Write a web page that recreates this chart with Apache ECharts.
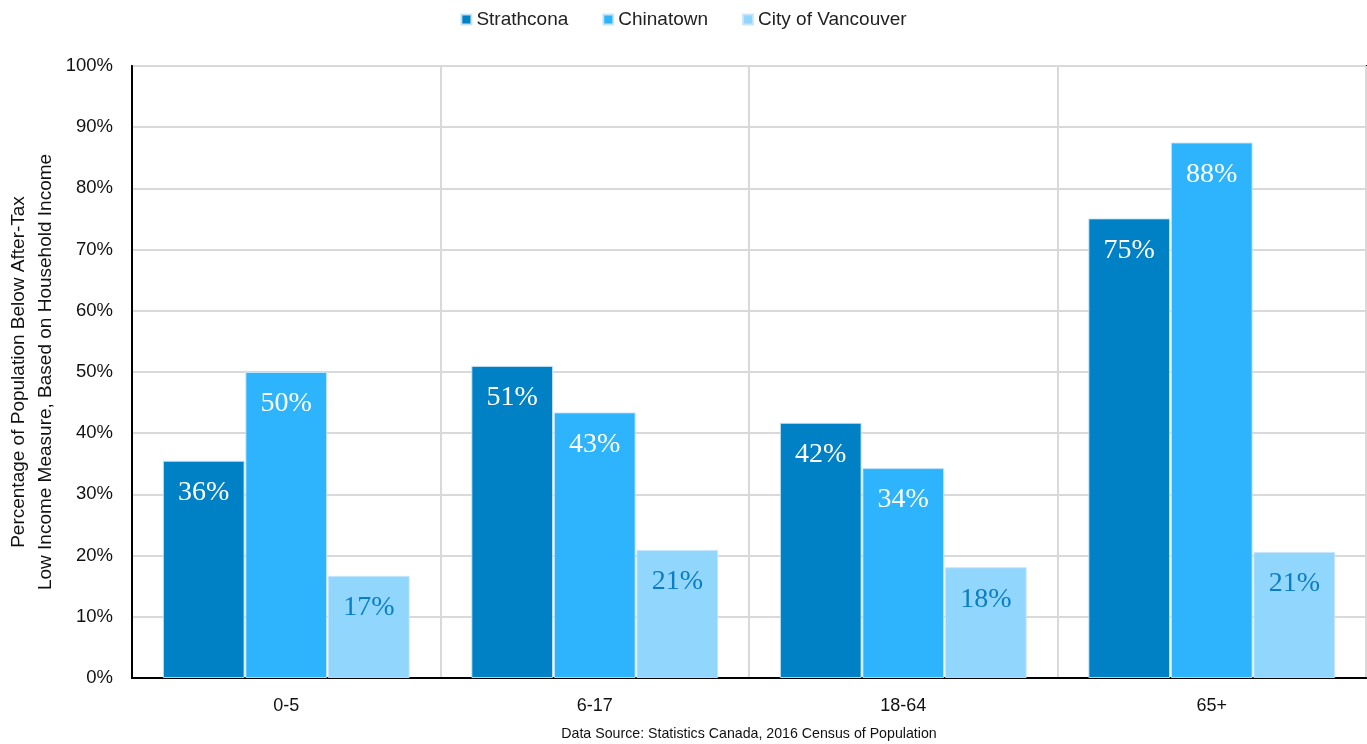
<!DOCTYPE html>
<html><head><meta charset="utf-8">
<script src="https://cdn.jsdelivr.net/npm/echarts@6/dist/echarts.min.js"></script>
<style>html,body{margin:0;padding:0;background:#fff}#c{width:1367px;height:744px}</style>
</head><body><div id="c"></div>
<script>
const categories = ['0-5', '6-17', '18-64', '65+'];
const seriesNames = ['Strathcona', 'Chinatown', 'City of Vancouver'];
const strathcona = [35.5, 51.0, 41.7, 75.1];
const chinatown = [50.0, 43.4, 34.3, 87.5];
const cityOfVancouver = [16.7, 20.9, 18.1, 20.6];
const yTicks = [0, 10, 20, 30, 40, 50, 60, 70, 80, 90, 100];

const colors = ['#0081C6', '#2DB4FC', '#91D6FD'];
const labelColors = ['#ffffff', '#ffffff', '#0B7DC2'];
const font = '"Liberation Sans", Arial, sans-serif';
const values = [strathcona, chinatown, cityOfVancouver];

const chart = echarts.init(document.getElementById('c'));
chart.setOption({
  animation: false,
  color: colors,
  textStyle: { fontFamily: font },
  legend: {
    top: 5, left: 'center', itemWidth: 10, itemHeight: 10, itemGap: 34,
    icon: 'rect',
    textStyle: { fontSize: 19, color: '#222', fontFamily: font },
    data: seriesNames
  },
  grid: { left: 132, right: 1, top: 66, bottom: 66, show: true, borderColor: '#000', borderWidth: 2, containLabel: false, outerBoundsMode: 'none' },
  xAxis: {
    type: 'category', data: categories,
    axisLine: { lineStyle: { color: '#000', width: 2 } },
    axisTick: { show: false },
    axisLabel: { fontSize: 18, color: '#111', margin: 19, fontFamily: font },
    splitLine: { show: true, lineStyle: { color: '#d9d9d9', width: 2 } }
  },
  yAxis: {
    type: 'value', min: 0, max: 100, interval: 10,
    name: 'Percentage of Population Below After-Tax\nLow Income Measure, Based on Household Income',
    nameLocation: 'middle', nameGap: 73, nameRotate: 90, nameMoveOverlap: false,
    nameTextStyle: { fontSize: 19, color: '#111', lineHeight: 27, fontFamily: font },
    axisLine: { show: true, lineStyle: { color: '#000', width: 2 } },
    axisTick: { show: false },
    axisLabel: { fontSize: 18.5, color: '#111', margin: 19, formatter: v => yTicks.includes(v) ? v + '%' : '', fontFamily: font },
    splitLine: { lineStyle: { color: '#d9d9d9', width: 2 } }
  },
  graphic: [{
    type: 'text', x: 749, y: 727,
    style: { text: 'Data Source: Statistics Canada, 2016 Census of Population', fontSize: 14.2, fill: '#111', fontFamily: font, align: 'center' }
  }],
  series: seriesNames.map((n, i) => ({
    name: n, type: 'bar', data: values[i],
    barGap: '1%', barCategoryGap: '20%',
    itemStyle: { color: colors[i], borderColor: 'rgba(200,230,250,0.9)', borderWidth: 1 },
    label: {
      show: true, position: 'insideTop', distance: 18,
      formatter: p => Math.round(p.value) + '%',
      fontFamily: '"Liberation Serif", "DejaVu Serif", serif', fontSize: 28, color: labelColors[i]
    }
  }))
});
</script></body></html>
